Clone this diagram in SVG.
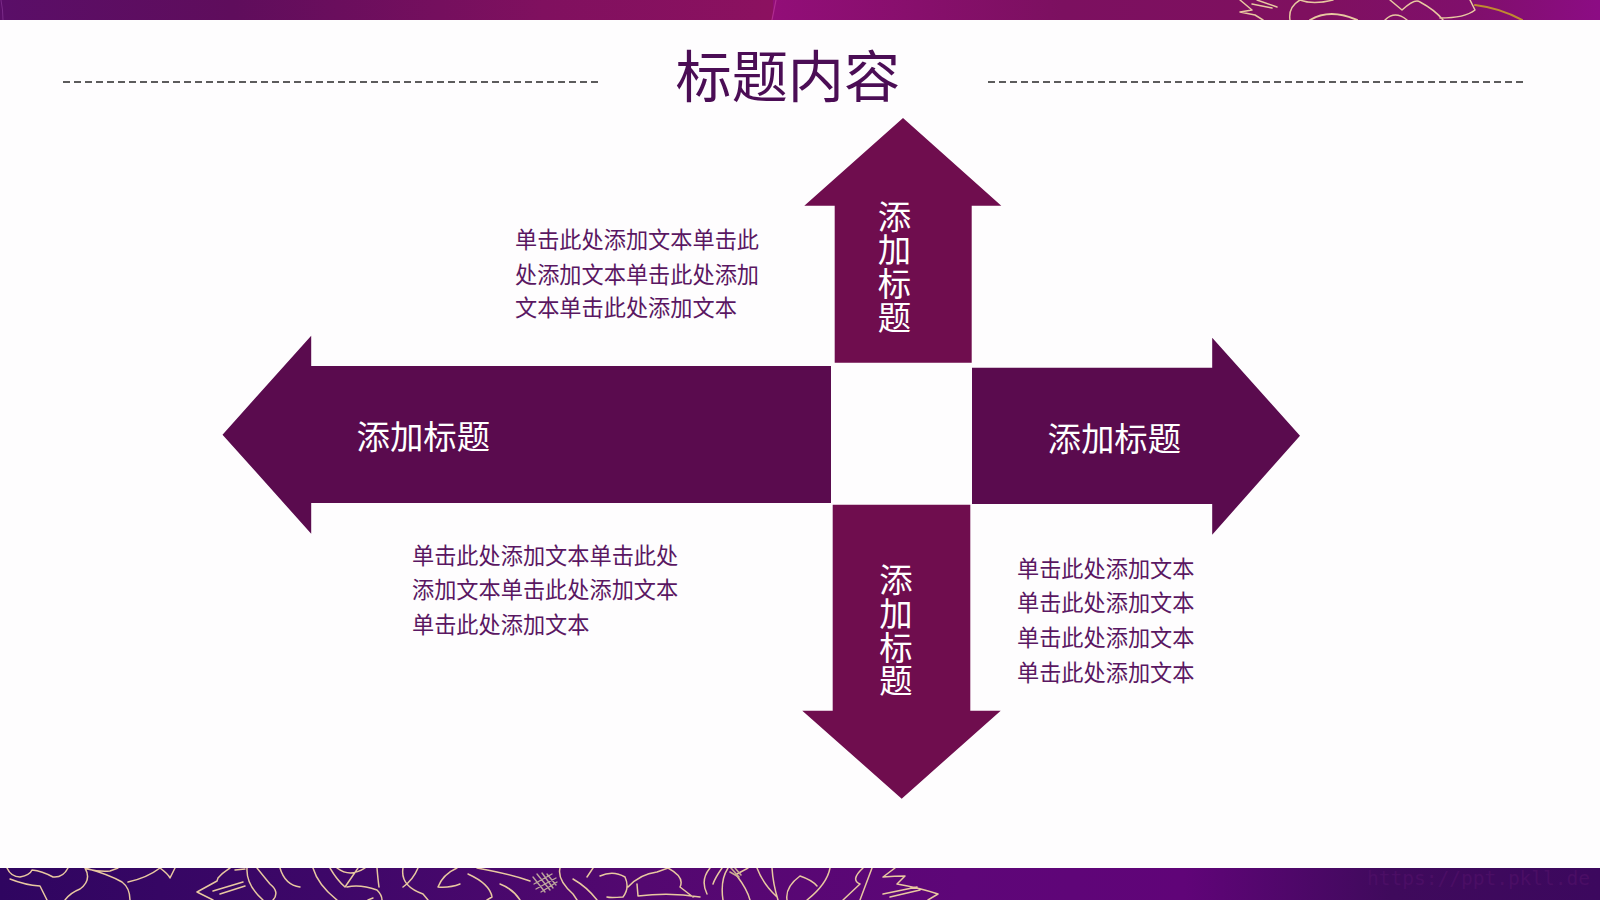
<svg xmlns="http://www.w3.org/2000/svg" width="1600" height="900" viewBox="0 0 1600 900">
<style>
.cjk{font-family:"Noto Sans CJK SC","Noto Sans",sans-serif}
.body{font-size:22.2px;fill:#5a1762}
.head{font-size:33.4px;fill:#ffffff}
.vert{font-size:33.4px;fill:#ffffff;writing-mode:vertical-rl;letter-spacing:.2px}
.gold{fill:none;stroke:#e8c8a0;stroke-width:1.5;stroke-linecap:round;stroke-linejoin:round}
.dash{stroke:#5c5c5c;stroke-width:2;stroke-dasharray:7 4;fill:none}
</style>
<defs>
<linearGradient id="topA" x1="0" x2="1" y1="0" y2="0"><stop offset="0" stop-color="#5a0e68"/><stop offset=".3" stop-color="#5f0d5c"/><stop offset=".7" stop-color="#80105f"/><stop offset="1" stop-color="#8c1160"/></linearGradient>
<linearGradient id="topB" x1="0" x2="1" y1="0" y2="0"><stop offset="0" stop-color="#920e78"/><stop offset=".35" stop-color="#7c1060"/><stop offset=".65" stop-color="#7f105f"/><stop offset=".85" stop-color="#800f6c"/><stop offset="1" stop-color="#8c0c84"/></linearGradient>
<linearGradient id="bot" x1="0" x2="1" y1="0" y2="0"><stop offset="0" stop-color="#2f0560"/><stop offset=".2" stop-color="#3d0768"/><stop offset=".4" stop-color="#530870"/><stop offset=".6" stop-color="#5e0678"/><stop offset=".74" stop-color="#600478"/><stop offset=".87" stop-color="#3f0a5c"/><stop offset="1" stop-color="#3c085e"/></linearGradient>
<clipPath id="topClip"><rect x="0" y="0" width="1600" height="20"/></clipPath>
<clipPath id="botClip"><rect x="0" y="868" width="1600" height="32"/></clipPath>
</defs>
<rect x="0" y="0" width="1600" height="900" fill="#fefdfe"/>

<g id="top-band">
<rect x="0" y="0" width="775" height="20" fill="url(#topA)"/>
<rect x="773" y="0" width="827" height="20" fill="url(#topB)"/>
<path d="M776 0 Q774 10 772 20" fill="none" stroke="#b02c90" stroke-width="1.2"/>
<path d="M1 0 Q3 10 3 20" fill="none" stroke="#7a2a88" stroke-width="1"/>
<g clip-path="url(#topClip)">
<path class="gold" d="M1240 0 L1252 10 L1240 12 L1255 15 L1263 20 M1257 0 L1277 7 M1252 4 L1272 8 M1300 0 Q1288 7 1290 20 M1300 0 Q1313 5 1333 0 M1385 20 Q1395 10 1407 20 M1390 0 L1402 10 Q1415 -2 1420 2 Q1435 10 1443 20 M1470 0 L1475 10 Q1465 18 1440 18"/>
<path class="gold" style="stroke-width:2" d="M1310 20 Q1330 8 1357 20"/>
<path class="gold" style="stroke:#c08a30;stroke-width:2" d="M1475 5 Q1500 8 1522 20"/>
</g>
</g>

<g id="bottom-band">
<rect x="0" y="868" width="1600" height="32" fill="url(#bot)"/>
<g clip-path="url(#botClip)">
<path class="gold" d="M7 868 Q11 877 20 877 Q30 875 32 870 Q42 871 53 877 Q63 878 68 868 M10 879 Q25 885 40 886 L47 900 M85 868 Q92 880 80 889 Q70 893 65 900 M85 868 Q108 874 122 882 Q130 888 130 900 M87 869 Q100 872 110 871 L118 868 M128 882 Q147 878 160 868 Q168 874 170 878 L175 868 M230 868 Q222 873 218 878 L217 881 L197 892 L213 900 M213 891 L243 882 M220 894 L245 886 M235 870 L245 869 M247 868 Q246 885 263 900 M257 868 Q265 878 270 884 Q280 892 273 900 M280 868 Q285 885 300 887"/>
<path class="gold" d="M313 868 Q318 885 337 900 M330 868 Q337 880 345 887 L358 868 M337 868 Q350 878 365 868 M347 887 Q360 884 377 890 Q382 895 382 900 M373 898 L368 900 M377 868 Q378 880 379 887 M403 868 Q400 886 423 894 L428 900 M418 868 Q413 880 403 887 M457 868 Q443 874 438 887 Q450 888 460 884 M468 874 Q490 884 492 897 L487 900 M477 868 Q510 874 530 881 M500 884 Q513 889 520 900 M560 868 Q557 880 573 894 L577 900 M593 868 L587 877 M573 879 Q587 887 597 900"/>
<path class="gold" d="M600 876 Q613 870 625 877 Q630 888 623 897 Q610 898 607 897 M628 887 Q640 874 657 872 L668 868 M637 884 L638 896 Q670 892 700 897 M668 868 Q685 877 680 887 L693 897 M710 868 Q700 880 707 894 M722 868 Q715 878 713 884 M728 868 Q720 880 723 900 M737 876 Q747 889 750 900 M748 868 L737 874 M757 868 Q763 884 777 897 M772 868 Q773 884 778 900 M830 868 Q827 884 807 900 M800 876 Q785 887 787 900 M800 876 Q812 880 817 886 M872 868 L860 900 M863 868 Q850 880 860 884 L843 900 M895 868 L883 877 Q895 876 905 876 L897 884 Q920 888 938 894 L928 900 M883 894 L917 887 M890 897 L920 890"/>
<path class="gold" style="stroke:#bda59c;stroke-width:1.4" d="M533 877 L545 892 M537 874 L550 890 M542 873 L553 888 M547 874 L556 885 M534 884 L552 874 M536 889 L556 878 M541 892 L557 882"/>
<path class="gold" style="stroke:#c9ac90;stroke-width:1.6" d="M731 868 L739 877 M735 868 L741 875 M730 872 L737 876"/>
</g>
<text x="1367" y="885" font-family="DejaVu Sans Mono, monospace" font-size="19.5" fill="#4f1068" opacity=".75">https://ppt.pkll.de</text>
</g>

<g id="title">
<line class="dash" x1="63" y1="82" x2="598" y2="82"/>
<line class="dash" x1="988" y1="82" x2="1523" y2="82"/>
<text class="cjk" x="675.5" y="97" font-size="56.2" fill="#4b0d55">标题内容</text>
</g>

<g id="arrow-up">
<polygon points="903,118 1001.3,205.7 971.7,205.7 971.7,362.7 834.7,362.7 834.7,205.7 804.3,205.7" fill="#6f0d4e"/>
<text class="cjk vert" x="894.5" y="199.5">添加标题</text>
</g>

<g id="arrow-left">
<polygon points="222.5,434.7 311.2,335.7 311.2,366 831,366 831,503 311.2,503 311.2,533.7" fill="#5a0b4e"/>
<text class="cjk head" x="356.5" y="449">添加标题</text>
</g>

<g id="arrow-right">
<polygon points="1300,435.7 1212.2,337.8 1212.2,367.7 972,367.7 972,504 1212.2,504 1212.2,534.7" fill="#5a0b4e"/>
<text class="cjk head" x="1047.5" y="451">添加标题</text>
</g>

<g id="arrow-down">
<polygon points="901.7,798.7 1000.7,710.7 970.3,710.7 970.3,504.7 832.7,504.7 832.7,710.7 802.3,710.7" fill="#6f0d4e"/>
<text class="cjk vert" x="896" y="563">添加标题</text>
</g>

<g id="text-top" class="cjk body">
<text x="515" y="248">单击此处添加文本单击此</text>
<text x="515" y="282.6">处添加文本单击此处添加</text>
<text x="515" y="316.3">文本单击此处添加文本</text>
</g>
<g id="text-bottom-left" class="cjk body">
<text x="412" y="563.6">单击此处添加文本单击此处</text>
<text x="412" y="598">添加文本单击此处添加文本</text>
<text x="412" y="632.5">单击此处添加文本</text>
</g>
<g id="text-bottom-right" class="cjk body">
<text x="1017" y="576.5">单击此处添加文本</text>
<text x="1017" y="611.3">单击此处添加文本</text>
<text x="1017" y="645.5">单击此处添加文本</text>
<text x="1017" y="680.5">单击此处添加文本</text>
</g>
</svg>
